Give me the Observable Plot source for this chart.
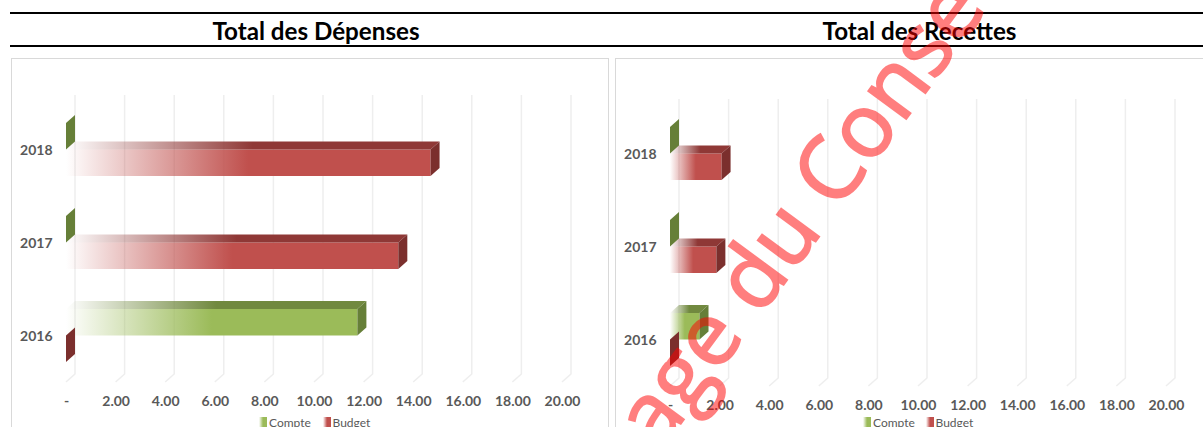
<!DOCTYPE html>
<html lang="fr"><head><meta charset="utf-8">
<script src="https://cdn.jsdelivr.net/npm/d3@7"></script>
<script src="https://cdn.jsdelivr.net/npm/@observablehq/plot@0.6"></script>
<style>
html,body{margin:0;padding:0;background:#fff;overflow:hidden;width:1203px;height:427px;font-family:Lato,sans-serif}
#page{position:relative;width:1203px;height:427px;overflow:hidden}
.rule{position:absolute;left:10px;right:0;height:2px;background:#000}
.title{position:absolute;top:17px;font-size:24.2px;font-weight:700;color:#000;transform:translateX(-50%);white-space:nowrap;line-height:28px}
.panel{position:absolute;top:58px;height:400px;border:1px solid #d9d9d9;box-sizing:border-box}
.plot{position:absolute;top:0}
.plot svg{display:block;background:transparent;overflow:visible}
.leg{position:absolute;top:416px;font-size:12px;color:#595959;line-height:14px;white-space:nowrap}
.sw{position:absolute;top:417px;width:8px;height:10px}
#wm{position:absolute;left:0;top:0;font-family:"Open Sans",sans-serif;font-size:88px;line-height:1;color:#f00;opacity:.5;white-space:nowrap;transform-origin:0 100%;-webkit-text-stroke:2px #f00}
</style></head><body><div id="page"></div>
<script>
const years = [2018, 2017, 2016];
const seriesNames = ["Compte", "Budget"];
const depenseCompte = [0, 0, 11.75];
const depenseBudget = [14.7, 13.4, 0];
const recetteCompte = [0, 0, 1.19];
const recetteBudget = [2.08, 1.87, 0];
const xTicks = [0, 2, 4, 6, 8, 10, 12, 14, 16, 18, 20];
const titles = ["Total des Dépenses", "Total des Recettes"];
const faces = {
  Compte: {front: "#9bbb59", top: "#71893f", side: "#667f38"},
  Budget: {front: "#c0504d", top: "#8f3836", side: "#7b2f2d"}
};
const depth = {dx: 9, dy: 8};
const page = document.getElementById("page");
const NS = "http://www.w3.org/2000/svg";
const el = (n, a, p) => {const e = document.createElementNS(NS, n); for (const k in a) e.setAttribute(k, a[k]); if (p) p.appendChild(e); return e;};

function gradient(defs, id, color) {
  const g = el("linearGradient", {id, x1: 0, x2: 1, y1: 0, y2: 0}, defs);
  el("stop", {offset: "0", "stop-color": color, "stop-opacity": 0}, g);
  el("stop", {offset: "0.5", "stop-color": color, "stop-opacity": 1}, g);
  return g;
}

function chart(compte, budget, opts) {
  const rows = [];
  seriesNames.forEach((s) => years.forEach((y, i) => rows.push({year: y, series: s, value: (s === "Compte" ? compte : budget)[i]})));
  const prefix = opts.id;
  const backGrid = (index, {x}, values, dim) => {
    const g = el("g", {});
    for (const t of xTicks) {
      const px = x(t), top = dim.marginTop, bot = dim.height - dim.marginBottom;
      el("path", {d: `M${px},${bot}L${px + depth.dx},${bot - depth.dy}L${px + depth.dx},${top - depth.dy}`, fill: "none", stroke: "#eeeeee", "stroke-width": 1.5}, g);
    }
    return g;
  };
  const prisms = (index, {x, y}, values, dim) => {
    const g = el("g", {});
    const defs = el("defs", {}, g);
    for (const s of seriesNames) {
      gradient(defs, `${prefix}-f-${s}`, faces[s].front);
      gradient(defs, `${prefix}-t-${s}`, faces[s].top);
    }
    const bw = (dim.height - dim.marginTop - dim.marginBottom) / years.length;
    const h = 26.5;
    for (const r of rows) {
      const mid = y(r.year) + bw / 2;
      const t = r.series === "Compte" ? mid - h : mid;
      const b = t + h;
      const x0 = x(0), x1 = x(r.value), {dx, dy} = depth;
      const f = faces[r.series];
      if (r.value > 0) {
        el("rect", {x: x0, y: t, width: x1 - x0, height: h, fill: `url(#${prefix}-f-${r.series})`}, g);
        el("polygon", {points: `${x0},${t} ${x1},${t} ${x1 + dx},${t - dy} ${x0 + dx},${t - dy}`, fill: `url(#${prefix}-t-${r.series})`}, g);
      }
      el("polygon", {points: `${x1},${t} ${x1 + dx},${t - dy} ${x1 + dx},${b - dy} ${x1},${b}`, fill: f.side}, g);
    }
    return g;
  };
  const plot = Plot.plot({
    width: opts.width, height: opts.height,
    marginLeft: opts.x0, marginRight: opts.width - opts.x1,
    marginTop: opts.top, marginBottom: opts.height - opts.bottom,
    x: {domain: [0, 20], axis: null},
    y: {domain: years, type: "band", padding: 0, axis: null},
    marks: [
      backGrid,
      prisms,
      Plot.axisX(xTicks, {anchor: "bottom", tickSize: 0, tickPadding: 14, tickFormat: (d) => d === 0 ? "-" : d.toFixed(2), fontSize: 14, fontWeight: 700, fill: "#595959", fontFamily: "Lato", label: null}),
      Plot.axisY(years, {anchor: "left", tickSize: 0, tickPadding: 14, dy: 0.8, tickFormat: String, fontSize: 14, fontWeight: 700, fill: "#595959", fontFamily: "Lato", label: null})
    ]
  });
  const wrap = document.createElement("div");
  wrap.className = "plot";
  wrap.style.left = opts.left + "px";
  wrap.appendChild(plot);
  page.appendChild(wrap);
}

const addDiv = (cls, style, text) => {const d = document.createElement("div"); d.className = cls; Object.assign(d.style, style); if (text) d.textContent = text; page.appendChild(d); return d;};
addDiv("rule", {top: "12px"});
addDiv("rule", {top: "45px"});
addDiv("title", {left: "316px"}, titles[0]);
addDiv("title", {left: "919.5px"}, titles[1]);
addDiv("panel", {left: "11px", width: "598px"});
addDiv("panel", {left: "615px", width: "600px"});

chart(depenseCompte, depenseBudget, {id: "dep", left: 0, width: 606, height: 427, x0: 66, x1: 562, top: 103, bottom: 382});
chart(recetteCompte, recetteBudget, {id: "rec", left: 604, width: 599, height: 427, x0: 66, x1: 562, top: 107, bottom: 386});

const legendAt = [[259, 269, 322.5, 332.5], [863, 873, 925.5, 935.5]];
for (const [a, b, c, d] of legendAt) {
  addDiv("sw", {left: a + "px", background: `linear-gradient(90deg,#fff 0,${faces.Compte.front} 50%)`});
  addDiv("leg", {left: b + "px"}, seriesNames[0]);
  addDiv("sw", {left: c + "px", background: `linear-gradient(90deg,#fff 0,${faces.Budget.front} 50%)`});
  addDiv("leg", {left: d + "px"}, seriesNames[1]);
}
const wm = addDiv("", {}, "age du Conse");
wm.id = "wm";
wm.style.left = "667px";
wm.style.top = "371px";
wm.style.transform = "rotate(-53.5deg)";
</script></body></html>
